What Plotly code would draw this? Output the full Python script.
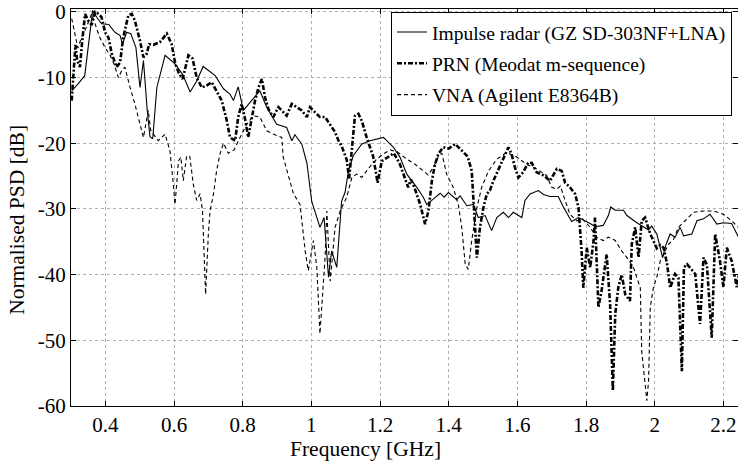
import plotly.graph_objects as go

# ---------------- data ----------------
imp_f = [0.302,0.32,0.34,0.363,0.375,0.389,0.41,0.428,0.443,0.45,0.462,0.474,0.489,0.501,0.511,0.522,0.53,0.538,0.55,0.574,
         0.603,0.625,0.647,0.666,0.685,0.72,0.744,0.763,0.773,0.787,0.802,0.826,0.85,0.87,0.899,0.928,0.943,0.952,0.972,0.987,
         1.001,1.025,1.037,1.05,1.059,1.074,1.088,1.098,1.108,1.122,1.147,1.171,1.21,1.239,1.258,1.278,1.307,1.326,1.336,1.355,
         1.375,1.387,1.399,1.423,1.433,1.453,1.472,1.486,1.506,1.525,1.54,1.559,1.574,1.588,1.613,1.622,1.637,1.661,1.676,1.695,
         1.719,1.734,1.758,1.778,1.812,1.826,1.85,1.865,1.872,1.885,1.909,1.919,1.948,1.982,1.991,2.006,2.016,2.023,2.033,2.045,
         2.059,2.074,2.084,2.108,2.123,2.142,2.161,2.181,2.2,2.224,2.244]
imp_db = [-12.0,-11.0,-9.7,0.2,-0.8,-1.8,-1.9,-3.1,-3.6,-4.9,-3.1,-3.3,-5.4,-11.5,-7.4,-15.0,-19.0,-19.3,-11.5,-6.6,
          -7.9,-9.5,-12.2,-10.5,-8.3,-9.7,-11.7,-12.5,-13.5,-11.4,-15.0,-13.5,-12.0,-14.5,-17.1,-17.6,-19.6,-18.7,-20.1,-23.0,
          -28.8,-32.8,-31.3,-40.4,-36.4,-38.9,-28.8,-27.5,-24.2,-21.9,-20.1,-19.6,-19.1,-20.6,-22.1,-24.7,-26.7,-28.2,-29.3,-28.5,
          -27.6,-28.2,-27.5,-28.6,-28.0,-29.5,-29.3,-31.3,-31.0,-33.3,-31.3,-30.5,-31.3,-30.5,-31.3,-28.7,-27.7,-27.2,-27.8,-28.1,
          -28.1,-29.7,-31.9,-31.3,-32.2,-32.7,-32.5,-31.0,-29.7,-30.2,-30.2,-31.0,-32.1,-33.2,-32.6,-33.8,-35.9,-37.4,-35.4,-33.8,
          -34.3,-32.8,-34.1,-33.8,-31.8,-31.5,-30.8,-32.3,-32.1,-32.2,-34.3]

prn_f = [0.302,0.308,0.313,0.318,0.326,0.332,0.341,0.35,0.36,0.37,0.38,0.389,0.399,0.409,0.419,0.433,0.443,0.452,0.467,0.477,
         0.486,0.501,0.511,0.52,0.528,0.54,0.559,0.579,0.593,0.603,0.613,0.625,0.642,0.654,0.666,0.681,0.695,0.71,0.724,0.739,
         0.754,0.763,0.778,0.787,0.797,0.807,0.816,0.826,0.836,0.846,0.856,0.865,0.875,0.889,0.904,0.914,0.928,0.943,0.957,0.972,
         0.987,0.996,1.011,1.025,1.04,1.054,1.069,1.079,1.088,1.103,1.11,1.116,1.122,1.127,1.137,1.147,1.161,1.171,1.18,1.193,
         1.205,1.223,1.24,1.258,1.273,1.282,1.29,1.3,1.317,1.331,1.341,1.351,1.36,1.37,1.384,1.4,1.419,1.435,1.443,1.455,
         1.467,1.472,1.477,1.482,1.491,1.501,1.511,1.52,1.53,1.545,1.559,1.574,1.583,1.593,1.603,1.617,1.632,1.642,1.656,1.676,
         1.695,1.715,1.729,1.739,1.753,1.768,1.778,1.787,1.792,1.802,1.812,1.822,1.826,1.831,1.836,1.845,1.86,1.87,1.878,1.885,
         1.894,1.904,1.914,1.928,1.933,1.943,1.953,1.962,1.972,1.987,1.996,2.006,2.016,2.026,2.036,2.045,2.059,2.069,2.079,2.085,
         2.094,2.104,2.118,2.132,2.142,2.152,2.166,2.176,2.19,2.2,2.21,2.224,2.239,2.245]
prn_db = [-13.5,-8.0,-5.0,-7.4,-8.4,-4.8,-0.3,-1.3,-2.0,0.0,-0.3,-0.8,-3.1,-3.9,-6.4,-8.4,-7.7,-3.9,-0.5,-0.3,
          -1.3,-4.4,-6.9,-6.4,-4.9,-5.0,-4.6,-3.3,-4.9,-7.7,-9.2,-10.2,-6.6,-7.1,-10.0,-11.5,-11.2,-10.7,-12.0,-13.5,
          -16.6,-19.1,-19.6,-16.0,-14.0,-16.3,-19.1,-16.0,-13.5,-11.5,-10.2,-13.0,-14.8,-16.0,-14.5,-15.0,-15.8,-14.0,-14.5,-15.0,
          -16.0,-14.5,-15.3,-16.0,-16.0,-17.1,-18.3,-19.6,-20.4,-22.5,-25.4,-22.0,-17.8,-15.8,-15.5,-16.6,-19.1,-20.6,-22.0,-26.0,
          -22.7,-22.1,-21.5,-23.2,-25.2,-26.7,-25.5,-26.7,-29.3,-32.3,-30.3,-25.7,-23.2,-21.6,-20.6,-20.8,-20.1,-21.0,-21.4,-22.0,
          -24.2,-28.7,-33.8,-37.4,-32.8,-29.8,-27.7,-27.2,-25.7,-23.9,-22.4,-20.6,-21.6,-23.7,-25.2,-24.4,-22.9,-23.0,-24.4,-24.9,
          -25.7,-23.9,-24.2,-26.0,-26.7,-27.7,-29.8,-36.4,-42.0,-35.9,-38.9,-34.8,-31.3,-38.9,-45.0,-42.5,-36.9,-44.5,-57.7,-46.0,
          -41.9,-40.0,-43.0,-44.0,-35.4,-32.8,-37.4,-31.8,-31.3,-33.8,-34.8,-36.0,-35.5,-35.9,-38.4,-42.0,-39.9,-40.5,-54.7,-38.9,
          -38.4,-39.0,-39.9,-47.5,-37.4,-38.5,-49.6,-33.8,-37.9,-41.9,-35.9,-37.9,-41.9,-40.0]

vna_f = [0.302,0.31,0.32,0.33,0.345,0.36,0.37,0.384,0.399,0.414,0.426,0.438,0.448,0.457,0.472,0.486,0.501,0.511,0.525,0.532,
         0.54,0.554,0.574,0.588,0.598,0.603,0.613,0.62,0.627,0.637,0.646,0.656,0.666,0.676,0.683,0.692,0.7,0.705,0.715,0.724,
         0.734,0.744,0.758,0.775,0.797,0.812,0.831,0.85,0.87,0.889,0.914,0.918,0.948,0.967,0.982,0.991,1.006,1.016,1.025,1.04,
         1.045,1.055,1.069,1.084,1.103,1.118,1.132,1.147,1.161,1.176,1.191,1.21,1.23,1.25,1.278,1.302,1.326,1.34,1.355,1.37,
         1.38,1.394,1.413,1.428,1.438,1.448,1.457,1.467,1.482,1.496,1.516,1.54,1.569,1.598,1.627,1.656,1.685,1.7,1.715,1.725,
         1.739,1.753,1.773,1.79,1.812,1.831,1.85,1.865,1.885,1.904,1.919,1.938,1.958,1.962,1.977,1.982,1.987,1.996,2.006,2.016,
         2.04,2.055,2.069,2.089,2.113,2.142,2.171,2.2,2.224,2.244]
vna_db = [-1.0,-3.0,-5.5,-4.0,-2.3,-0.3,-1.8,-3.9,-5.4,-6.6,-8.0,-10.0,-8.9,-8.4,-11.5,-14.0,-17.1,-19.1,-15.0,-18.0,
          -18.6,-19.6,-18.6,-21.1,-26.2,-29.3,-22.7,-22.1,-25.7,-21.9,-22.0,-26.2,-28.7,-27.7,-30.3,-43.0,-33.8,-30.3,-27.7,-24.2,
          -21.6,-20.0,-21.5,-21.0,-18.6,-17.1,-15.8,-16.0,-18.1,-18.6,-19.1,-22.1,-27.7,-29.3,-36.4,-39.4,-34.8,-38.9,-49.0,-37.4,
          -30.3,-41.0,-32.8,-30.3,-28.2,-25.2,-24.7,-25.2,-24.2,-23.2,-22.4,-21.6,-21.0,-21.3,-22.4,-23.2,-24.2,-24.8,-23.7,-22.0,
          -21.5,-24.7,-26.7,-29.3,-32.8,-38.4,-39.2,-34.8,-29.8,-26.7,-24.2,-22.4,-21.4,-22.1,-23.2,-23.9,-24.9,-26.7,-27.0,-26.5,
          -28.7,-30.8,-31.8,-31.5,-32.8,-34.3,-34.8,-34.3,-34.8,-36.4,-37.4,-38.9,-42.0,-51.6,-59.2,-56.2,-45.0,-42.0,-40.4,-37.9,
          -35.4,-34.6,-32.8,-31.8,-30.5,-30.3,-30.3,-30.8,-31.8,-32.8]

series_names = ["Impulse radar (GZ SD-303NF+LNA)", "PRN (Meodat m-sequence)", "VNA (Agilent E8364B)"]
x_title = "Frequency [GHz]"
y_title = "Normalised PSD [dB]"

x_tickvals = [0.4, 0.6, 0.8, 1.0, 1.2, 1.4, 1.6, 1.8, 2.0, 2.2]
x_ticktext = ["0.4", "0.6", "0.8", "1", "1.2", "1.4", "1.6", "1.8", "2", "2.2"]
y_tickvals = [0, -10, -20, -30, -40, -50, -60]
y_ticktext = ["0", "-10", "-20", "-30", "-40", "-50", "-60"]

FONT = "Liberation Serif, Times New Roman, serif"
FS_LEG = 19.5
FS_TICK = 21
FS_XT = 21.5
FS_YT = 21.5

fig = go.Figure()
fig.add_trace(go.Scatter(x=imp_f, y=imp_db, mode="lines", name=series_names[0], legendgroup="a",
                         line=dict(color="black", width=1.1)))
fig.add_trace(go.Scatter(x=prn_f, y=prn_db, mode="lines", name=series_names[1], legendgroup="b",
                         line=dict(color="black", width=2.6, dash="5px,2px,2px,2px")))
fig.add_trace(go.Scatter(x=vna_f, y=vna_db, mode="lines", name=series_names[2], legendgroup="c",
                         line=dict(color="black", width=1.1, dash="4px,3px")))

axis_common = dict(showline=True, linecolor="black", linewidth=1, mirror="allticks",
                   ticks="inside", ticklen=5, tickcolor="black",
                   showgrid=True, gridcolor="#b0b0b0", griddash="dot", gridwidth=1,
                   zeroline=False, automargin=False,
                   tickfont=dict(family=FONT, size=FS_TICK, color="black"))

fig.update_xaxes(range=[0.3, 2.2425], tickvals=x_tickvals, ticktext=x_ticktext, **axis_common)
fig.update_yaxes(range=[-60, 0.45], tickvals=y_tickvals, ticktext=y_ticktext, **axis_common)

# axis titles (placed as in the original, slightly off-centre)
fig.add_annotation(text=x_title, xref="paper", yref="paper", x=0.442, y=-0.108,
                   xanchor="center", yanchor="middle", showarrow=False,
                   font=dict(family=FONT, size=FS_XT, color="black"))
fig.add_annotation(text=y_title, xref="paper", yref="paper", x=-0.08, y=0.468,
                   xanchor="center", yanchor="middle", showarrow=False, textangle=-90,
                   font=dict(family=FONT, size=FS_YT, color="black"))

fig.update_layout(
    width=738, height=463,
    margin=dict(l=71, r=0, t=9, b=57),
    paper_bgcolor="white", plot_bgcolor="white",
    showlegend=True,
    legend=dict(x=0.991, y=0.993, xanchor="right", yanchor="top",
                bgcolor="white", bordercolor="black", borderwidth=1,
                font=dict(family=FONT, size=FS_LEG, color="black"),
                traceorder="grouped", tracegroupgap=3, itemwidth=30),
)

fig.write_html("out.html")
